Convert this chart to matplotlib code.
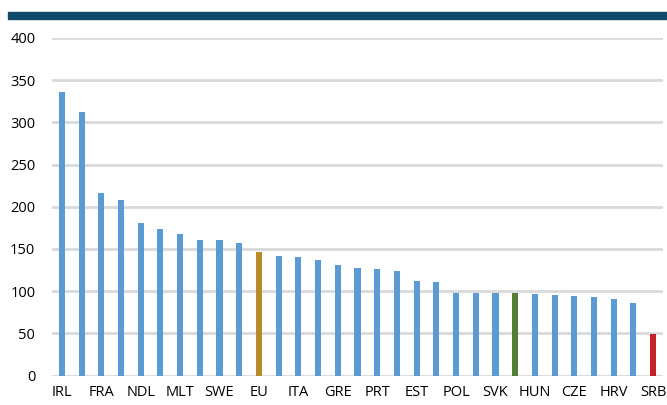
import matplotlib
matplotlib.use("Agg")
import matplotlib.pyplot as plt
from matplotlib.patches import Rectangle

tick_labels = ["IRL", "", "FRA", "", "NDL", "", "MLT", "", "SWE", "", "EU", "",
               "ITA", "", "GRE", "", "PRT", "", "EST", "", "POL", "", "SVK", "",
               "HUN", "", "CZE", "", "HRV", "", "SRB"]
values = [336, 312, 216, 208, 181, 174, 168, 161, 161, 157, 146, 142,
          140, 137, 131, 128, 126, 124, 112, 111, 98, 98, 98, 98,
          97, 96, 94, 93, 91, 86, 49]
highlight = {10: "#b98a2c", 23: "#527f38", 30: "#c4222a"}
base_color = "#5b9bd5"

plt.rcParams['font.family'] = ['Open Sans', 'DejaVu Sans']

fig = plt.figure(figsize=(6.67, 4.05), dpi=100)
ax = fig.add_axes([0.078, 0.0728, 0.916, 0.8334])

colors = [highlight.get(i, base_color) for i in range(len(values))]
x = list(range(len(values)))
ax.bar(x, values, width=0.31, color=colors, zorder=3)

ax.set_xlim(-0.5, len(values) - 0.5)
ax.set_ylim(0, 400)
ax.set_yticks(range(0, 401, 50))
ax.set_xticks(x)
ax.set_xticklabels(tick_labels, fontsize=10.5, color="#000000")
ax.tick_params(axis='y', labelsize=10.5, length=0, pad=12)
ax.tick_params(axis='x', length=0, pad=7)
ax.grid(axis='y', color='#d9d9d9', linewidth=2, zorder=0)
ax.set_axisbelow(True)
for s in ax.spines.values():
    s.set_visible(False)

fig.patches.append(Rectangle((8 / 667, 1 - 19 / 405), 1, 6.5 / 405,
                             transform=fig.transFigure, color="#0f4868",
                             zorder=5))

fig.savefig("out.png", dpi=100)
